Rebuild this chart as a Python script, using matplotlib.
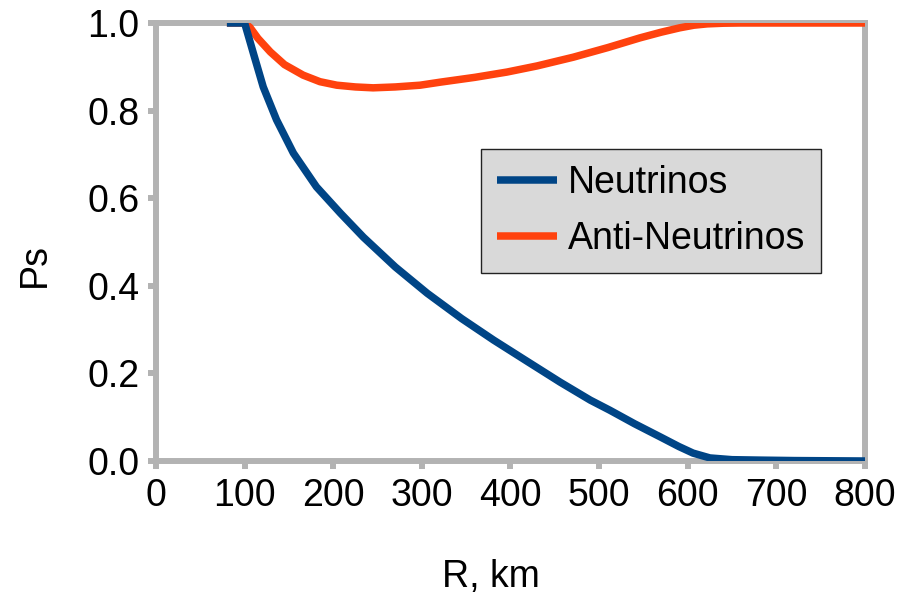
import matplotlib
matplotlib.use("Agg")
import matplotlib.pyplot as plt

# radius in km and survival probability for each flavour
r_nu = [80, 100, 110, 121, 136, 155, 181, 208, 234, 270, 306, 345, 381, 420,
        456, 490, 512, 540, 569, 590, 606, 625, 650, 682, 720, 800]
ps_nu = [1.0, 1.0, 0.93, 0.854, 0.779, 0.703, 0.626, 0.566, 0.511, 0.443,
         0.383, 0.325, 0.276, 0.226, 0.18, 0.139, 0.116, 0.085, 0.055, 0.033,
         0.018, 0.007, 0.003, 0.002, 0.001, 0.0]

r_anti = [80, 100, 106, 115, 129, 145, 166, 185, 204, 225, 245, 270, 298, 321,
          360, 396, 430, 471, 510, 546, 570, 591, 607, 622, 640, 659, 700, 800]
ps_anti = [1.0, 1.0, 0.99, 0.965, 0.934, 0.905, 0.881, 0.866, 0.858, 0.854,
           0.852, 0.854, 0.858, 0.865, 0.876, 0.888, 0.902, 0.922, 0.944, 0.966,
           0.979, 0.989, 0.995, 0.998, 0.9995, 1.0, 1.0, 1.0]

x_ticks = [0, 100, 200, 300, 400, 500, 600, 700, 800]
y_ticks = [0.0, 0.2, 0.4, 0.6, 0.8, 1.0]

plt.rcParams['font.family'] = ['Liberation Sans', 'DejaVu Sans']

W, H = 899, 594
fig = plt.figure(figsize=(W / 100, H / 100), dpi=100)
ax = fig.add_axes([156 / W, 1 - 461 / H, (865 - 156) / W, (461 - 23) / H])

grey = '#b3b3b3'
ax.plot(r_anti, ps_anti, color='#ff420e', lw=5.4, label='Anti-Neutrinos',
        solid_capstyle='butt', solid_joinstyle='round', zorder=3)
ax.plot(r_nu, ps_nu, color='#004586', lw=5.4, label='Neutrinos',
        solid_capstyle='butt', solid_joinstyle='round', zorder=4)

ax.set_xlim(0, 800)
ax.set_ylim(0, 1)
ax.set_xticks(x_ticks)
ax.set_yticks(y_ticks)
ax.set_yticklabels([f'{v:.1f}' for v in y_ticks])
for s in ax.spines.values():
    s.set_color(grey)
    s.set_linewidth(4.3)
    s.set_zorder(2)
ax.tick_params(colors=grey, labelcolor='black', width=4.3, length=6,
               labelsize=27, pad=6)

fig.text(35 / W, 1 - 265 / H, 'Ps', rotation=90, ha='center', va='center',
         fontsize=27)
fig.text(491 / W, 1 - 587 / H, 'R, km', ha='center', va='baseline',
         fontsize=27)

handles, labels = ax.get_legend_handles_labels()
leg = ax.legend(handles[::-1], labels[::-1], loc='upper left',
                bbox_to_anchor=(481 / W, 1 - 149 / H),
                bbox_transform=fig.transFigure, borderaxespad=0,
                fontsize=27, fancybox=False, framealpha=1,
                facecolor='#d9d9d9', edgecolor='#222222',
                handlelength=1.6, handletextpad=0.3, labelspacing=0.54,
                borderpad=0.42)
leg.get_frame().set_linewidth(1.0)

fig.savefig('out.png', dpi=100)
